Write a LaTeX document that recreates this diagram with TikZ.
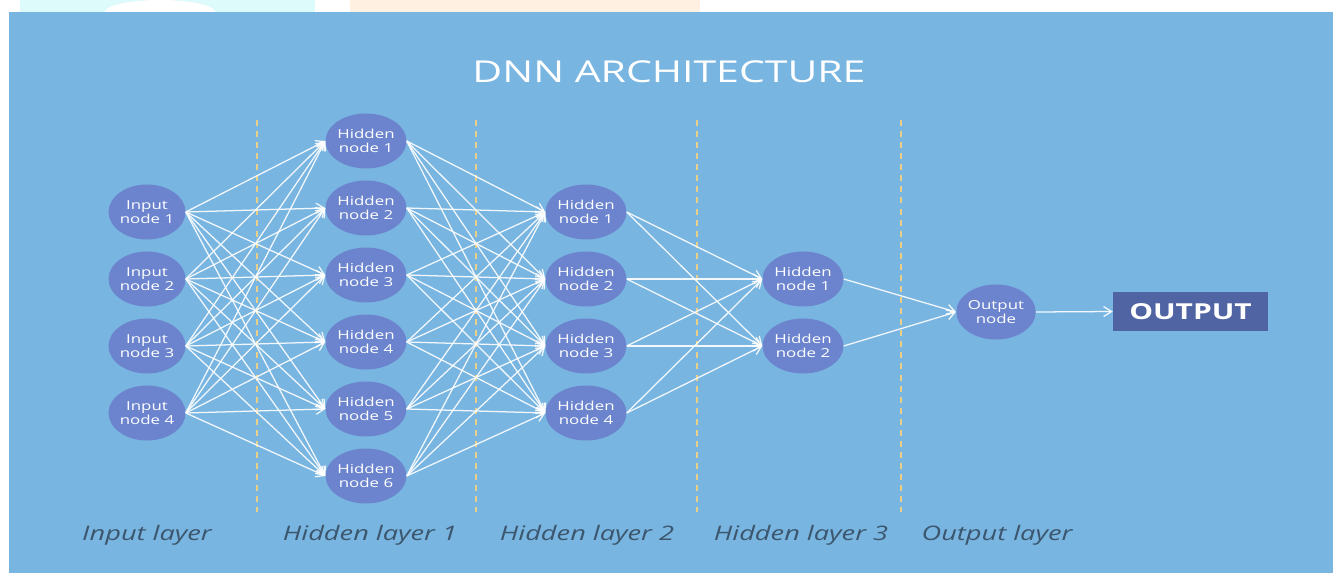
\documentclass[tikz,border=0pt]{standalone}
\usepackage{fontspec}
\setmainfont{Open Sans}[FakeStretch=1.36]
\usetikzlibrary{shapes.geometric,arrows.meta}
\definecolor{bg}{HTML}{79B5E1}
\definecolor{nodefill}{HTML}{6B84CD}
\definecolor{outbox}{HTML}{5064A3}
\definecolor{dashcol}{HTML}{E9CF88}
\definecolor{labcol}{HTML}{3B566D}
\definecolor{wmcyan}{HTML}{DDFBFB}
\definecolor{wmpeach}{HTML}{FFF0E2}
\tikzset{
  neuron/.style={ellipse, fill=nodefill, draw=none, inner sep=0pt,
    minimum width=57.75pt, minimum height=41.25pt, text=white, align=center,
    font=\fontsize{9.3}{10}\selectfont},
  conn/.style={draw=white, opacity=0.9, line width=0.95pt,
    -{Straight Barb[length=6pt,width=7.5pt,line width=0.95pt]}},
  sepline/.style={draw=dashcol, line width=1.4pt, dash pattern=on 4.5pt off 3.8pt},
  layerlab/.style={anchor=base, text=labcol, font=\fontsize{15}{18}\selectfont\itshape},
  outputbox/.style={rectangle, fill=outbox, draw=none, text=white, minimum width=116.25pt,
    minimum height=29.25pt, inner sep=0pt, font=\fontsize{16.5}{18}\selectfont\bfseries},
  titletext/.style={anchor=base, text=white, font=\fontsize{22.6}{26}\selectfont}
}
\begin{document}
\begin{tikzpicture}[x=0.75pt,y=-0.75pt]
\useasboundingbox (0,0) rectangle (1333,573);
\fill[white] (0,0) rectangle (1333,573);
% faint watermark in the top strip
\fill[wmcyan] (20,0) rectangle (315,12);
\fill[white] (160,12) ellipse (55 and 12);
\fill[wmpeach] (350,0) rectangle (700,12);
% background
\fill[bg] (9,12) rectangle (1333,573);

\node[titletext] (title) at (669,83) {DNN ARCHITECTURE};

% separators
\foreach \x in {257,476,697,901} \draw[sepline] (\x,120) -- (\x,512);

% nodes
\foreach \k in {1,...,4} \node[neuron] (i\k) at (147,{212+67*(\k-1)}) {Input\\node \k};
\foreach \k in {1,...,6} \node[neuron] (h\k) at (366,{141+67*(\k-1)}) {Hidden\\node \k};
\foreach \k in {1,...,4} \node[neuron] (g\k) at (586,{212+67*(\k-1)}) {Hidden\\node \k};
\foreach \k in {1,...,2} \node[neuron] (f\k) at (803,{279+67*(\k-1)}) {Hidden\\node \k};
\node[neuron] (o) at (996,312) {Output\\node};
\node[outputbox] (out) at (1190.5,311.5) {OUTPUT};

% connectors
\foreach \a in {1,...,4} \foreach \b in {1,...,6} \draw[conn] (i\a.east) -- (h\b.west);
\foreach \a in {1,...,6} \foreach \b in {1,...,4} \draw[conn] (h\a.east) -- (g\b.west);
\foreach \a in {1,...,4} \foreach \b in {1,...,2} \draw[conn] (g\a.east) -- (f\b.west);
\foreach \a in {1,...,2} \draw[conn] (f\a.east) -- (o.west);
\draw[conn] (o.east) -- (out.west);

% layer labels
\node[layerlab] (l1) at (147,540) {Input layer};
\node[layerlab] (l2) at (370,540) {Hidden layer 1};
\node[layerlab] (l3) at (587,540) {Hidden layer 2};
\node[layerlab] (l4) at (801,540) {Hidden layer 3};
\node[layerlab] (l5) at (997,540) {Output layer};
\end{tikzpicture}
\end{document}
